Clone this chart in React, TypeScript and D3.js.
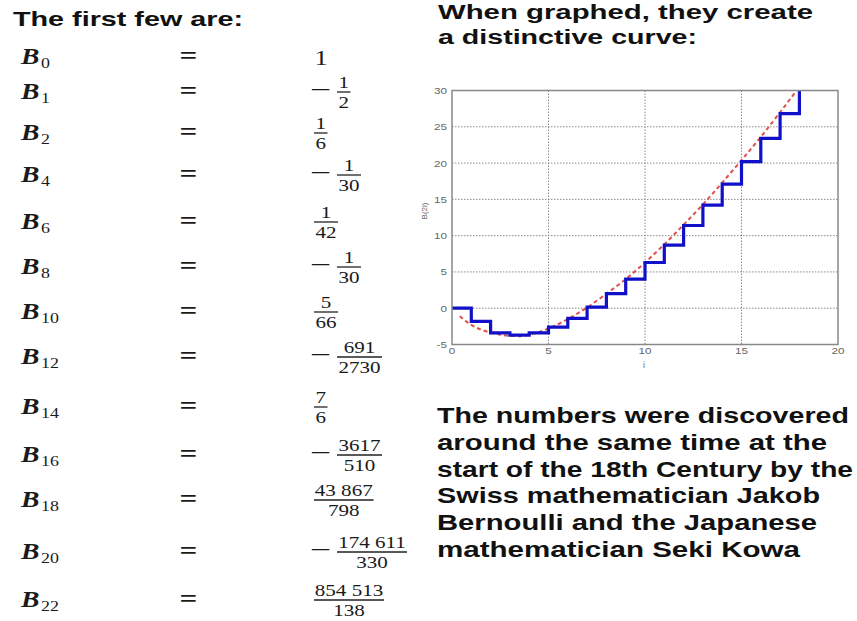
import React from "react";
import * as d3 from "d3";

// ---------- data ----------
const bIndex = [0, 1, 2, 4, 6, 8, 10, 12, 14, 16, 18, 20, 22];
const bNegative = [false, true, false, true, false, true, false, true, false, true, false, true, false];
const bNumerator = ["1", "1", "1", "1", "1", "1", "5", "691", "7", "3617", "43 867", "174 611", "854 513"];
const bDenominator = ["", "2", "6", "30", "42", "30", "66", "2730", "6", "510", "798", "330", "138"];

const stepI = [0, 1, 2, 3, 4, 5, 6, 7, 8, 9, 10, 11, 12, 13, 14, 15, 16, 17, 18];
const stepValue = [0, -1.8, -3.4, -3.7, -3.4, -2.6, -1.4, 0.15, 2.0, 4.0, 6.3, 8.7, 11.4, 14.2, 17.1, 20.2, 23.4, 26.8, 30.3];

const curveX = [0.4, 1, 1.5, 2, 2.5, 3, 3.5, 4, 4.5, 5, 6, 7, 8, 9, 10, 11, 12, 13, 14, 15, 16, 17, 17.8];
const curveY = [-1.1, -2.3, -2.95, -3.35, -3.65, -3.8, -3.85, -3.65, -3.3, -2.8, -1.5, 0.1, 2.0, 4.0, 6.3, 8.8, 11.5, 14.3, 17.3, 20.4, 23.6, 27.0, 29.8];

const xTicks = [0, 5, 10, 15, 20];
const yTicks = [-5, 0, 5, 10, 15, 20, 25, 30];
const xGrid = [5, 10, 15];
const yGrid = [0, 5, 10, 15, 20, 25];

const leftTitle = "The first few are:";
const rightTitle = ["When graphed, they create", "a distinctive curve:"];
const paragraph = [
  "The numbers were discovered",
  "around the same time at the",
  "start of the 18th Century by the",
  "Swiss mathematician Jakob",
  "Bernoulli and the Japanese",
  "mathematician Seki Kowa",
];

// ---------- layout ----------
const W = 857;
const H = 621;
const rowCenter = [57, 92, 133, 175, 222, 267, 312, 357, 407, 455, 500, 552, 600];
const rightTitleWidths = [375, 259];
const paragraphWidths = [412, 390, 416, 383, 380, 363];

const SX = 1.24; // horizontal stretch of the left panel
const SERIF = "'Liberation Serif', 'DejaVu Serif', serif";
const SANS = "'Liberation Sans', Arial, sans-serif";

function T(props: {
  x: number;
  y: number;
  size: number;
  sx?: number;
  anchor?: string;
  weight?: string;
  italic?: boolean;
  family?: string;
  fill?: string;
  children: React.ReactNode;
}) {
  const { x, y, size, sx = SX, anchor = "start", weight = "normal", italic = false, family = SERIF, fill = "#1a1a1a" } = props;
  return (
    <text
      transform={`translate(${x},${y}) scale(${sx},1)`}
      fontSize={size}
      fontFamily={family}
      fontWeight={weight}
      fontStyle={italic ? "italic" : "normal"}
      textAnchor={anchor}
      fill={fill}
    >
      {props.children}
    </text>
  );
}

function strWidth(s: string) {
  let w = 0;
  for (const c of s) w += c === " " ? 4 : 10.5;
  return w;
}

export default function App() {
  const x = d3.scaleLinear().domain([0, 20]).range([452, 838]);
  const y = d3.scaleLinear().domain([-5, 30]).range([344.5, 90.5]);

  const stepLine = d3
    .line<number>()
    .x((_, i) => x(stepI[i]))
    .y((d) => y(d))
    .curve(d3.curveStepAfter);

  const smoothLine = d3
    .line<number>()
    .x((_, i) => x(curveX[i]))
    .y((d) => y(d))
    .curve(d3.curveMonotoneX);

  const [x0, x1] = x.range();
  const [y0, y1] = [y(30), y(-5)];

  return (
    <svg
      width={W}
      height={H}
      viewBox={`0 0 ${W} ${H}`}
      style={{ position: "absolute", left: 0, top: 0, background: "#fff" }}
    >
      <rect x={0} y={0} width={W} height={H} fill="#fff" />

      {/* left title */}
      <text x={13} y={26} fontFamily={SANS} fontWeight="bold" fontSize={21} fill="#111" textLength={230} lengthAdjust="spacingAndGlyphs">
        {leftTitle}
      </text>

      {/* Bernoulli numbers */}
      {bIndex.map((n, i) => {
        const c = rowCenter[i];
        const num = bNumerator[i];
        const den = bDenominator[i];
        const neg = bNegative[i];
        const bw = Math.max(strWidth(num), strWidth(den)) + 3;
        const left = neg ? 337 : 314;
        const mid = left + bw / 2;
        return (
          <g key={n}>
            <T x={21} y={c + 7} size={23} sx={1.2} weight="bold" italic>
              B
            </T>
            <T x={41} y={c + 11} size={14} sx={1.28}>
              {String(n)}
            </T>
            <T x={188.5} y={c + 6.5} size={25} sx={1.25} anchor="middle" weight="bold">
              =
            </T>
            {den === "" ? (
              <T x={321} y={c + 8} size={22} sx={1.2} anchor="middle">
                {num}
              </T>
            ) : (
              <g>
                {neg && (
                  <T x={320.5} y={c + 5} size={22} sx={1.7} anchor="middle">
                    −
                  </T>
                )}
                <T x={mid} y={c - 4} size={17} anchor="middle">
                  {num}
                </T>
                <line x1={left} x2={left + bw} y1={c} y2={c} stroke="#222" strokeWidth={1.3} />
                <T x={mid} y={c + 16} size={17} anchor="middle">
                  {den}
                </T>
              </g>
            )}
          </g>
        );
      })}

      {/* right title */}
      {rightTitle.map((s, i) => (
        <text
          key={s}
          x={438}
          y={18.5 + i * 25}
          fontFamily={SANS}
          fontWeight="bold"
          fontSize={20}
          fill="#111"
          textLength={rightTitleWidths[i]}
          lengthAdjust="spacingAndGlyphs"
        >
          {s}
        </text>
      ))}

      {/* chart */}
      <defs>
        <clipPath id="plotClip">
          <rect x={x0} y={y0} width={x1 - x0} height={y1 - y0} />
        </clipPath>
      </defs>
      <g>
        {xGrid.map((v) => (
          <line key={"gx" + v} x1={x(v)} x2={x(v)} y1={y0} y2={y1} stroke="#8a8a8a" strokeWidth={1} strokeDasharray="1.5,1.5" />
        ))}
        {yGrid.map((v) => (
          <line key={"gy" + v} x1={x0} x2={x1} y1={y(v)} y2={y(v)} stroke="#8a8a8a" strokeWidth={1} strokeDasharray="1.5,1.5" />
        ))}
        <g clipPath="url(#plotClip)">
          <path d={smoothLine(curveY) || ""} fill="none" stroke="#e0504a" strokeWidth={2} strokeDasharray="4,3" />
          <path d={stepLine(stepValue) || ""} fill="none" stroke="#1010c8" strokeWidth={3.2} />
        </g>
        <rect x={x0} y={y0} width={x1 - x0} height={y1 - y0} fill="none" stroke="#888" strokeWidth={1.5} />
        {yTicks.map((v) => (
          <T key={"ty" + v} x={447} y={y(v) + 3.5} size={9} sx={1.3} anchor="end" family={SANS} fill="#666">
            {String(v)}
          </T>
        ))}
        {xTicks.map((v) => (
          <T key={"tx" + v} x={x(v)} y={354} size={9} sx={1.3} anchor="middle" family={SANS} fill="#666">
            {String(v)}
          </T>
        ))}
        <T x={644} y={368} size={9} sx={1} anchor="middle" family={SANS} fill="#666">
          i
        </T>
        <text transform="translate(427,211) rotate(-90)" fontSize={8} fontFamily={SANS} textAnchor="middle" fill="#666">
          B(2i)
        </text>
      </g>

      {/* paragraph */}
      {paragraph.map((s, i) => (
        <text
          key={s}
          x={437}
          y={423.3 + i * 26.65}
          fontFamily={SANS}
          fontWeight="bold"
          fontSize={21.5}
          fill="#111"
          textLength={paragraphWidths[i]}
          lengthAdjust="spacingAndGlyphs"
        >
          {s}
        </text>
      ))}
    </svg>
  );
}
